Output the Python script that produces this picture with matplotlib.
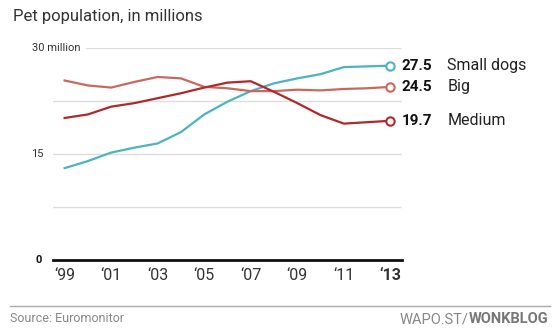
import matplotlib
matplotlib.use("Agg")
import matplotlib.pyplot as plt
import matplotlib.transforms as mtransforms

plt.rcParams['font.family'] = ['Roboto', 'DejaVu Sans']

years = list(range(1999, 2014))
small_dogs = [13.0, 14.0, 15.2, 15.9, 16.5, 18.1, 20.6, 22.4, 23.9, 25.0, 25.7, 26.3, 27.3, 27.4, 27.5]
big_dogs = [25.4, 24.7, 24.4, 25.2, 25.9, 25.7, 24.5, 24.3, 23.9, 23.9, 24.1, 24.0, 24.2, 24.3, 24.5]
medium_dogs = [20.1, 20.6, 21.7, 22.2, 22.9, 23.6, 24.4, 25.1, 25.3, 23.8, 22.2, 20.5, 19.3, 19.5, 19.7]

series = [
    ("Small dogs", small_dogs, "#4db3bd"),
    ("Big", big_dogs, "#c9695d"),
    ("Medium", medium_dogs, "#b0282b"),
]
tick_years = [1999, 2001, 2003, 2005, 2007, 2009, 2011, 2013]

fig = plt.figure(figsize=(5.6, 3.28), dpi=100)
W, H = 560, 328
ax = fig.add_axes([53 / W, 1 - 260 / H, (402 - 53) / W, (260 - 48) / H])
ax.set_xlim(1998.5, 2013.5)
ax.set_ylim(0, 30)
ax.axis('off')

# light gridlines; the top one leaves room for its label
for v in [7.5, 15, 22.5]:
    ax.axhline(v, color='#dddddd', lw=1, zorder=1)
ax.axhline(30, xmin=33 / 349, color='#dddddd', lw=1, zorder=1)
ax.axhline(0, color='#111111', lw=2, zorder=3, clip_on=False)

for name, vals, color in series:
    ax.plot(years, vals, color=color, lw=1.6, zorder=2, clip_on=False)
    ax.plot(years[-1], vals[-1], 'o', ms=6, mfc='white', mec=color, mew=1.5,
            zorder=4, clip_on=False)
    ax.annotate(f"{vals[-1]:.1f}", (years[-1], vals[-1]), xytext=(8, 0),
                textcoords='offset points', va='center', ha='left',
                fontsize=11, fontweight='bold', color='#111111')
    ax.annotate(name, (years[-1], vals[-1]), xytext=(41, 0),
                textcoords='offset points', va='center', ha='left',
                fontsize=11.5, color='#222222')

# y labels sit to the left of / above the gridlines
ylab = mtransforms.blended_transform_factory(ax.transAxes, ax.transData)
ax.text(27 / 349, 30, "30 million", transform=ylab, ha='right', va='center',
        fontsize=8, color='#333333')
ax.text(-9 / 349, 15, "15", transform=ylab, ha='right', va='center',
        fontsize=8, color='#333333')
ax.text(-11 / 349, 0, "0", transform=ylab, ha='right', va='center',
        fontsize=8, fontweight='bold', color='#111111')

# x tick labels
for y in tick_years:
    ax.annotate("\u2018" + str(y)[2:], (y, 0), xytext=(0, -6),
                textcoords='offset points', ha='center', va='top',
                fontsize=11.5, color='#333333',
                fontweight='bold' if y == tick_years[-1] else 'normal')

fig.text(13 / W, 1 - 16 / H, "Pet population, in millions", ha='left',
         va='center', fontsize=12, color='#333333')

# footer
fig.add_artist(plt.Line2D([10 / W, 550 / W], [1 - 306 / H, 1 - 306 / H],
                          color='#aaaaaa', lw=1))
fig.text(10 / W, 1 - 319 / H, "Source: Euromonitor", ha='left', va='center',
         fontsize=9, color='#888888')
wonk = fig.text(548 / W, 1 - 319 / H, "WONKBLOG", ha='right', va='center',
                fontsize=10.5, fontweight='bold', color='#777777')
fig.canvas.draw()
bb = wonk.get_window_extent()
fig.text(bb.x0 / W, 1 - 319 / H, "WAPO.ST/", ha='right', va='center',
         fontsize=10.5, color='#888888')

fig.savefig("out.png", dpi=100, facecolor='white')
